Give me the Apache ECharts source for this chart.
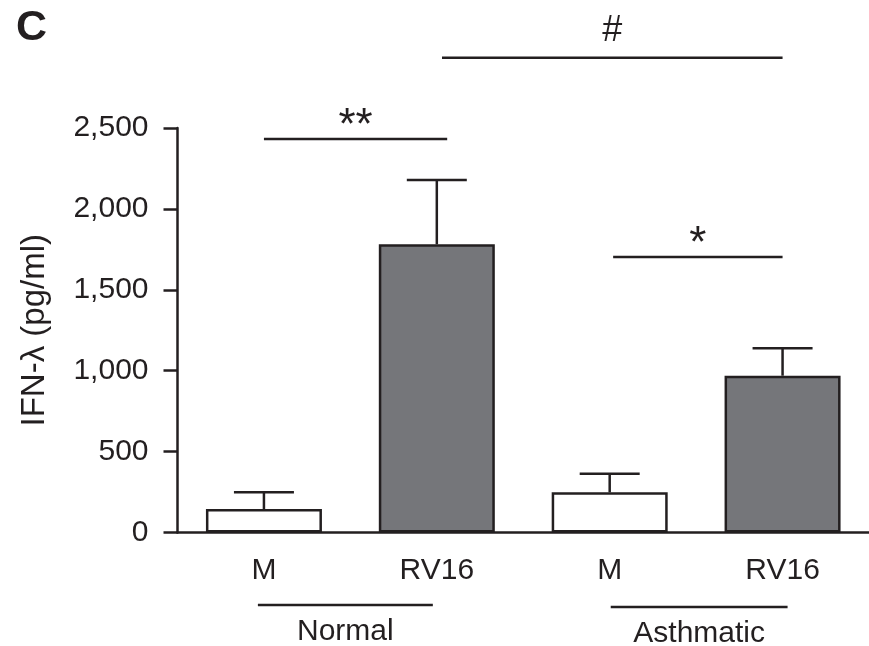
<!DOCTYPE html>
<html>
<head>
<meta charset="utf-8">
<script src="https://cdn.jsdelivr.net/npm/echarts@6/dist/echarts.min.js"></script>
<style>
  html, body { margin: 0; padding: 0; background: #fff; }
  #chart { width: 869px; height: 646px; }
</style>
</head>
<body>
<div id="chart"></div>
<script>
// ---- data ----
const categories = ['M', 'RV16', 'M', 'RV16'];
const means = [145, 1781, 248, 969];
const errorTops = [248, 2179, 363, 1138];
const isInfected = [false, true, false, true];
const yTicks = [0, 500, 1000, 1500, 2000, 2500];

// significance brackets (x in category units, y in pg/ml)
const bracketStart = [0.0, 1.03, 2.02];
const bracketEnd = [1.06, 3.0, 3.0];
const bracketLevel = [2432, 2934, 1703];
const bracketLabels = ['**', '#', '*'];

// group underlines and names
const groupNames = ['Normal', 'Asthmatic'];
const groupStart = [-0.035, 2.006];
const groupEnd = [0.977, 3.029];
const groupLevel = [-448, -460];

// ---- styling ----
const INK = '#231f20';
const GRAY = '#75767a';
const FONT = '"Liberation Sans", Arial, sans-serif';
const FS = 30;

const chart = echarts.init(document.getElementById('chart'));

const barData = means.map((v, i) => ({
  value: v,
  itemStyle: { color: isInfected[i] ? GRAY : '#ffffff' }
}));

const errData = means.map((v, i) => [i, v, errorTops[i]]);

const bracketData = bracketStart.map((s, i) => [s, bracketEnd[i], bracketLevel[i], i]);
const groupData = groupStart.map((s, i) => [s, groupEnd[i], groupLevel[i], i]);

const option = {
  animation: false,
  backgroundColor: '#ffffff',
  title: {
    text: 'C',
    left: 11,
    top: 2,
    textStyle: { fontFamily: FONT, fontWeight: 'bold', fontSize: 43, color: INK }
  },
  grid: { left: 177.5, right: 0, top: 128, bottom: 113.5, containLabel: false },
  xAxis: [
    {
      type: 'category',
      data: categories,
      axisLine: { onZero: false, lineStyle: { color: INK, width: 2.5 } },
      axisTick: { alignWithLabel: true, length: 14, lineStyle: { color: INK, width: 2.5 } },
      axisLabel: { color: INK, fontFamily: FONT, fontSize: FS, margin: 23 },
      splitLine: { show: false }
    },
    {
      type: 'value',
      min: -0.5,
      max: 3.5,
      show: false,
      splitLine: { show: false }
    }
  ],
  yAxis: {
    type: 'value',
    min: yTicks[0],
    max: yTicks[yTicks.length - 1],
    interval: 500,
    name: 'IFN-λ (pg/ml)',
    nameLocation: 'middle',
    nameGap: 126,
    nameTextStyle: { color: INK, fontFamily: FONT, fontSize: 33 },
    axisLine: { show: true, onZero: false, lineStyle: { color: INK, width: 2.5 } },
    axisTick: { show: true, length: 14, lineStyle: { color: INK, width: 2.5 } },
    axisLabel: {
      color: INK, fontFamily: FONT, fontSize: FS, margin: 29,
      formatter: v => v.toLocaleString('en-US')
    },
    splitLine: { show: false }
  },
  series: [
    {
      type: 'bar',
      data: barData,
      barWidth: 116,
      itemStyle: { borderColor: INK, borderWidth: 2.5 },
      z: 2
    },
    {
      type: 'custom',
      data: errData,
      z: 3,
      renderItem: function (params, api) {
        const x = api.value(0);
        const pMean = api.coord([x, api.value(1)]);
        const pTop = api.coord([x, api.value(2)]);
        const half = 30;
        const st = { stroke: INK, lineWidth: 2.5 };
        return {
          type: 'group',
          children: [
            { type: 'line', shape: { x1: pMean[0], y1: pMean[1], x2: pTop[0], y2: pTop[1] }, style: st },
            { type: 'line', shape: { x1: pTop[0] - half, y1: pTop[1], x2: pTop[0] + half, y2: pTop[1] }, style: st }
          ]
        };
      }
    },
    {
      type: 'custom',
      xAxisIndex: 1,
      data: bracketData,
      clip: false,
      z: 3,
      renderItem: function (params, api) {
        const p1 = api.coord([api.value(0), api.value(2)]);
        const p2 = api.coord([api.value(1), api.value(2)]);
        const label = bracketLabels[api.value(3)];
        const isHash = label === '#';
        const fs = isHash ? 36 : 44;
        const off = isHash ? 27 : 12;
        return {
          type: 'group',
          children: [
            { type: 'line', shape: { x1: p1[0], y1: p1[1], x2: p2[0], y2: p2[1] }, style: { stroke: INK, lineWidth: 2.5 } },
            {
              type: 'text',
              style: {
                text: label, x: (p1[0] + p2[0]) / 2, y: p1[1] - off,
                align: 'center', verticalAlign: 'middle',
                fontFamily: FONT, fontSize: fs, fill: INK
              }
            }
          ]
        };
      }
    },
    {
      type: 'custom',
      xAxisIndex: 1,
      data: groupData,
      clip: false,
      z: 3,
      renderItem: function (params, api) {
        const p1 = api.coord([api.value(0), api.value(2)]);
        const p2 = api.coord([api.value(1), api.value(2)]);
        const name = groupNames[api.value(3)];
        return {
          type: 'group',
          children: [
            { type: 'line', shape: { x1: p1[0], y1: p1[1], x2: p2[0], y2: p2[1] }, style: { stroke: INK, lineWidth: 2.5 } },
            {
              type: 'text',
              style: {
                text: name, x: (p1[0] + p2[0]) / 2, y: p1[1] + 27,
                align: 'center', verticalAlign: 'middle',
                fontFamily: FONT, fontSize: FS, fill: INK
              }
            }
          ]
        };
      }
    }
  ]
};

chart.setOption(option);
</script>
</body>
</html>
